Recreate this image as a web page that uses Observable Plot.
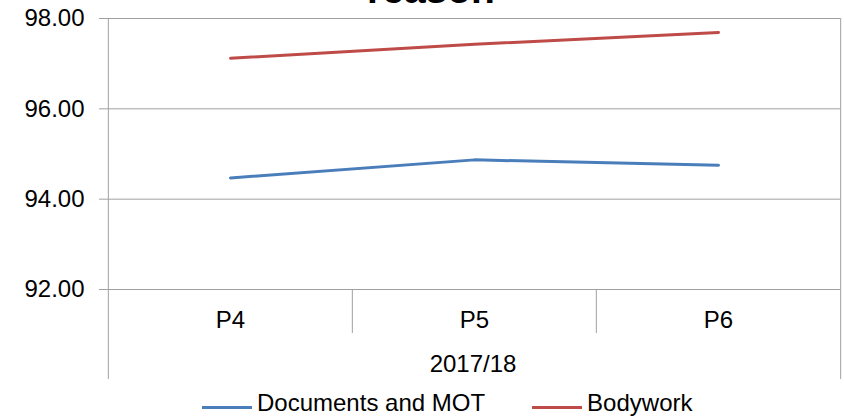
<!DOCTYPE html>
<html>
<head>
<meta charset="utf-8">
<script src="https://cdn.jsdelivr.net/npm/d3@7"></script>
<script src="https://cdn.jsdelivr.net/npm/@observablehq/plot@0.6"></script>
<style>
  html, body { margin: 0; padding: 0; background: #fff; }
  body { width: 844px; height: 418px; overflow: hidden; font-family: "Liberation Sans", Arial, sans-serif; }
  #legend { height: 30px; display: flex; align-items: center; padding-left: 202px; font-size: 24px; line-height: 30px; color: #000; }
  .item { display: flex; align-items: center; }
  .sw { width: 50px; height: 3px; margin-right: 5px; position: relative; top: 4px; }
  .gap { width: 47px; }
</style>
</head>
<body>
<div id="chart"></div>
<div id="legend"></div>
<script>
// ---- data ----
const periods = ["P4", "P5", "P6"];
const yearLabel = "2017/18";
const seriesNames = ["Documents and MOT", "Bodywork"];
const documentsMOT = [94.47, 94.87, 94.75];
const bodywork = [97.12, 97.43, 97.69];
const yTicks = [92, 94, 96, 98];
const titleText = "reason";
const seriesColors = ["#4a7ebb", "#be4b48"];

// ---- table built from arrays ----
const seriesValues = [documentsMOT, bodywork];
const rows = [];
seriesNames.forEach((s, si) => periods.forEach((p, pi) => rows.push({series: s, period: p, value: seriesValues[si][pi]})));

const W = 844, H = 388;
const mL = 107, mR = 4, mT = 18, mB = H - 289;
const step = (W - mL - mR) / periods.length;
const frameH = H - mT - mB;

const chart = Plot.plot({
  width: W,
  height: H,
  marginLeft: mL,
  marginRight: mR,
  marginTop: mT,
  marginBottom: mB,
  style: {fontFamily: "Liberation Sans, Arial, sans-serif", fontSize: "24px", color: "#000", background: "#fff", overflow: "visible"},
  x: {type: "point", domain: periods, padding: 0.5, axis: null},
  y: {domain: [92, 98]},
  color: {domain: seriesNames, range: seriesColors},
  marks: [
    Plot.ruleY(yTicks, {stroke: "#a0a0a0", strokeWidth: 1}),
    Plot.axisY(yTicks, {tickSize: 8, tickPadding: 15, tickFormat: d3.format(".2f"), stroke: "#a0a0a0", fill: "#000", fontSize: 24, label: null}),
    // outer vertical lines (left axis and right edge), extending through category area
    Plot.ruleX([periods[0]], {x: d => d, dx: -step / 2, stroke: "#a0a0a0", insetBottom: -90}),
    Plot.ruleX([periods[periods.length - 1]], {x: d => d, dx: step / 2, stroke: "#a0a0a0", insetBottom: -90}),
    // category separators
    Plot.ruleX(periods.slice(1), {x: d => d, dx: -step / 2, stroke: "#a0a0a0", insetTop: frameH, insetBottom: -44}),
    // category labels
    Plot.text(periods, {x: d => d, frameAnchor: "bottom", lineAnchor: "middle", dy: 31, fontSize: 24, fill: "#000"}),
    Plot.text([yearLabel], {frameAnchor: "bottom", lineAnchor: "middle", dy: 75, dx: -1, fontSize: 24, fill: "#000"}),
    // cut-off title
    Plot.text([titleText], {frameAnchor: "top", lineAnchor: "middle", dx: -43, dy: -27.5, fontSize: 39, fontWeight: "bold", fill: "#000"}),
    // series lines
    Plot.line(rows, {x: "period", y: "value", z: "series", stroke: "series", strokeWidth: 3, strokeLinecap: "round", strokeLinejoin: "round"})
  ]
});
document.getElementById("chart").appendChild(chart);

// ---- legend ----
const legend = document.getElementById("legend");
seriesNames.forEach((s, i) => {
  if (i > 0) { const g = document.createElement("div"); g.className = "gap"; legend.appendChild(g); }
  const it = document.createElement("div"); it.className = "item";
  const sw = document.createElement("div"); sw.className = "sw"; sw.style.background = seriesColors[i];
  const tx = document.createElement("span"); tx.textContent = s;
  it.appendChild(sw); it.appendChild(tx); legend.appendChild(it);
});
</script>
</body>
</html>
